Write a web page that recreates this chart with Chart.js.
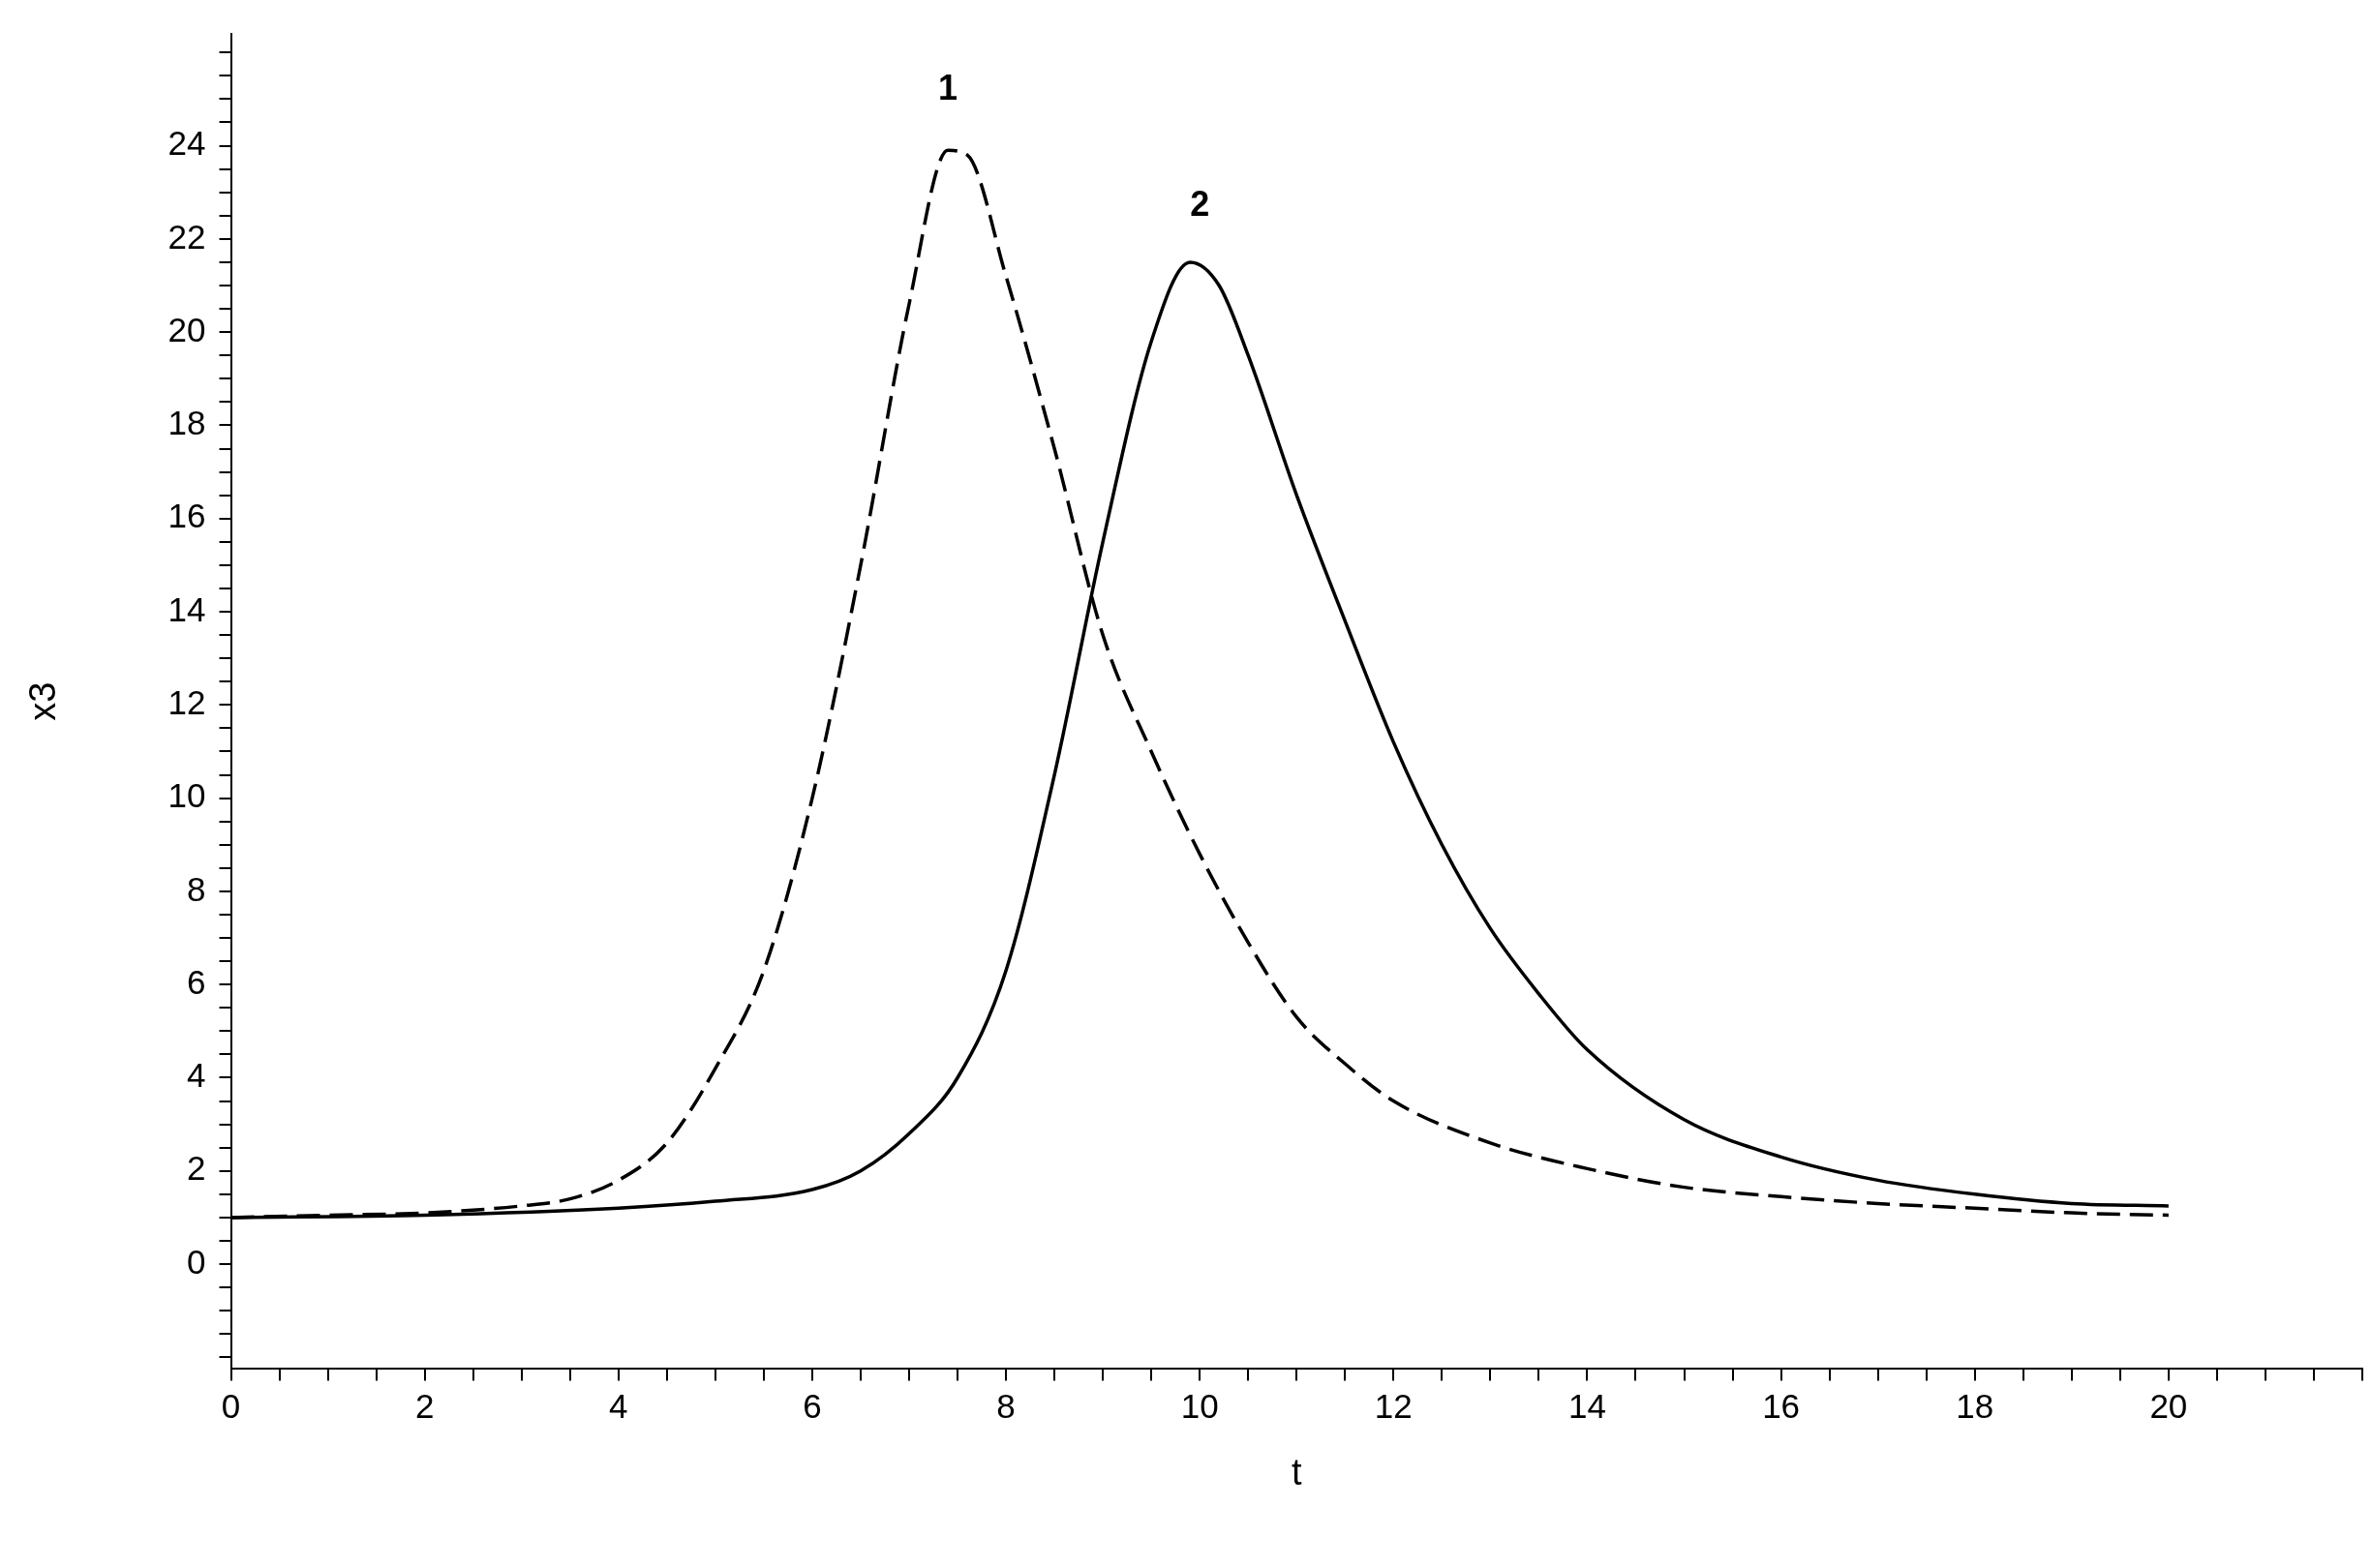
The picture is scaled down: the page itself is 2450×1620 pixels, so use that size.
<!DOCTYPE html>
<html><head><meta charset="utf-8">
<script src="https://cdn.jsdelivr.net/npm/chart.js@4"></script>
<style>html,body{margin:0;background:#fff}#w{width:2450px;height:1620px}</style>
</head><body><div id="w"><canvas id="c"></canvas></div>
<script>
const t1 = [0,1,2,3,3.5,4,4.5,5,5.5,6,6.5,7,7.4,7.6,8,8.5,9,9.5,10,10.5,11,11.5,12,13,14,15,16,17,18,19,20];
const y1 = [1,1.05,1.1,1.25,1.4,1.8,2.6,4.2,6.3,10,15,20.6,23.9,23.8,21.2,17.5,13.5,11,8.8,6.9,5.3,4.3,3.5,2.6,2.05,1.65,1.45,1.3,1.2,1.1,1.05];
const t2 = [0,2,4,5,6,6.5,7,7.5,8,8.5,9,9.5,9.9,10.2,10.5,11,11.5,12,12.5,13,13.5,14,15,16,17,18,19,20];
const y2 = [1,1.05,1.2,1.35,1.6,2,2.8,4,6.3,10.5,15.5,19.8,21.5,21,19.5,16.5,13.8,11.2,9,7.2,5.8,4.6,3.1,2.3,1.8,1.5,1.3,1.25];
const curveLabels = [{t:7.4,y:25.2,text:'1'},{t:10,y:22.7,text:'2'}];
const font = 'Liberation Sans, Arial, sans-serif';
const labelPlugin = {id:'lbl',afterDatasetsDraw(ch){const c=ch.ctx,x=ch.scales.x,y=ch.scales.y;c.save();c.font='bold 36px '+font;c.fillStyle='#000';c.textAlign='center';c.textBaseline='middle';curveLabels.forEach(l=>c.fillText(l.text,x.getPixelForValue(l.t),y.getPixelForValue(l.y)));c.restore();}};
new Chart(document.getElementById('c'),{type:'line',
data:{datasets:[
{data:t1.map((t,i)=>({x:t,y:y1[i]})),borderColor:'#000',borderWidth:3.5,borderDash:[24,10],pointRadius:0,cubicInterpolationMode:'monotone',fill:false},
{data:t2.map((t,i)=>({x:t,y:y2[i]})),borderColor:'#000',borderWidth:3.5,pointRadius:0,cubicInterpolationMode:'monotone',fill:false}]},
options:{responsive:true,maintainAspectRatio:false,animation:false,
layout:{padding:{top:31,right:10,left:20,bottom:70}},
plugins:{legend:{display:false},tooltip:{enabled:false}},
scales:{
x:{type:'linear',min:0,max:22,grid:{display:true,drawOnChartArea:false,color:'#000',tickLength:12,lineWidth:2},border:{color:'#000',width:2},
 ticks:{stepSize:0.5,autoSkip:false,maxRotation:0,color:'#000',font:{family:font,size:35},padding:8,callback:v=>(v%2===0&&v<=20)?String(v):''},
 title:{display:true,text:'t',color:'#000',font:{family:font,size:38},padding:{top:16}}},
y:{type:'linear',min:-2.25,max:26.4,grid:{display:true,drawOnChartArea:false,color:'#000',tickLength:12,lineWidth:2},border:{color:'#000',width:2},
 afterBuildTicks:s=>{const a=[];for(let v=-2;v<=26;v+=0.5)a.push({value:v});s.ticks=a;},
 ticks:{autoSkip:false,color:'#000',font:{family:font,size:35},padding:14,callback:v=>(v%2===0&&v>=0&&v<=24)?String(v):''},
 title:{display:true,text:'x3',color:'#000',font:{family:font,size:38},padding:{bottom:90}}}}},
plugins:[labelPlugin]});
</script></body></html>
